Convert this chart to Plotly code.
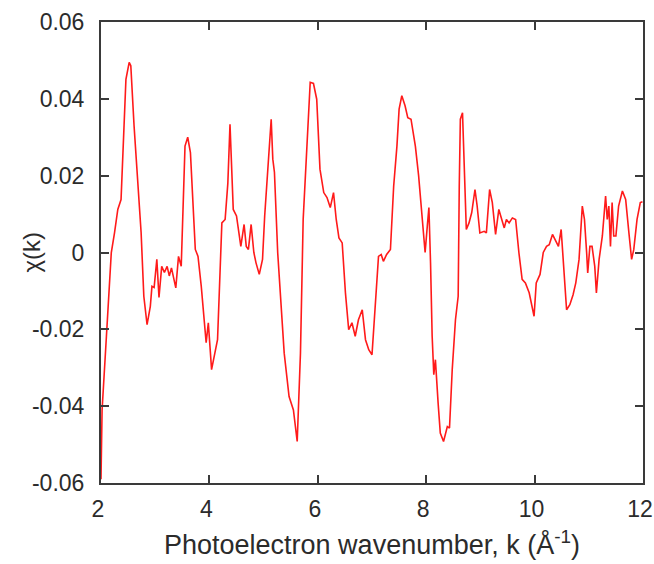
import plotly.graph_objects as go

k = [2.00, 2.02, 2.10, 2.19, 2.25, 2.31, 2.37, 2.40, 2.46, 2.52, 2.55, 2.61, 2.68, 2.74, 2.79,
     2.85, 2.91, 2.94, 2.98, 3.03, 3.07, 3.12, 3.17, 3.22, 3.26, 3.30, 3.38, 3.43, 3.48, 3.55,
     3.60, 3.65, 3.74, 3.79, 3.85, 3.94, 3.98, 4.04, 4.15, 4.19, 4.23, 4.29, 4.34, 4.38, 4.41,
     4.44, 4.50, 4.58, 4.64, 4.68, 4.72, 4.77, 4.82, 4.86, 4.92, 4.98, 5.02, 5.09, 5.14, 5.17,
     5.20, 5.26, 5.32, 5.38, 5.47, 5.55, 5.62, 5.68, 5.73, 5.80, 5.86, 5.92, 5.98, 6.04, 6.11,
     6.17, 6.23, 6.29, 6.34, 6.39, 6.45, 6.51, 6.57, 6.63, 6.69, 6.75, 6.82, 6.88, 6.94, 7.00,
     7.06, 7.12, 7.17, 7.21, 7.27, 7.34, 7.40, 7.46, 7.50, 7.55, 7.61, 7.66, 7.72, 7.80, 7.86,
     7.93, 7.98, 8.02, 8.05, 8.08, 8.11, 8.14, 8.17, 8.22, 8.26, 8.32, 8.39, 8.43, 8.48, 8.54,
     8.59, 8.61, 8.63, 8.67, 8.70, 8.74, 8.79, 8.84, 8.90, 8.94, 8.99, 9.07, 9.11, 9.17, 9.22,
     9.28, 9.34, 9.39, 9.44, 9.48, 9.53, 9.59, 9.65, 9.71, 9.77, 9.83, 9.90, 9.99, 10.03, 10.10,
     10.16, 10.22, 10.27, 10.33, 10.39, 10.44, 10.49, 10.53, 10.59, 10.65, 10.71, 10.76, 10.82,
     10.88, 10.92, 10.96, 10.98, 11.02, 11.06, 11.11, 11.14, 11.19, 11.25, 11.31, 11.34, 11.37,
     11.40, 11.43, 11.46, 11.50, 11.55, 11.62, 11.68, 11.74, 11.79, 11.83, 11.89, 11.95, 11.99]

chi = [-0.0590, -0.0410, -0.0218, 0.0000, 0.0052, 0.0112, 0.0138, 0.0260, 0.0451, 0.0495, 0.0486,
       0.0330, 0.0173, 0.0052, -0.0114, -0.0188, -0.0140, -0.0088, -0.0091, -0.0018, -0.0117,
       -0.0036, -0.0052, -0.0036, -0.0061, -0.0040, -0.0092, -0.0010, -0.0036, 0.0277, 0.0300,
       0.0260, 0.0008, -0.0010, -0.0088, -0.0235, -0.0183, -0.0305, -0.0227, -0.0088, 0.0077,
       0.0086, 0.0180, 0.0334, 0.0225, 0.0112, 0.0095, 0.0016, 0.0073, 0.0016, 0.0008, 0.0073,
       0.0000, -0.0027, -0.0057, -0.0018, 0.0095, 0.0234, 0.0347, 0.0243, 0.0209, 0.0000,
       -0.0140, -0.0262, -0.0375, -0.0410, -0.0492, -0.0262, 0.0086, 0.0286, 0.0443, 0.0440,
       0.0399, 0.0217, 0.0156, 0.0143, 0.0117, 0.0156, 0.0086, 0.0038, 0.0025, -0.0105, -0.0201,
       -0.0183, -0.0218, -0.0175, -0.0149, -0.0227, -0.0253, -0.0266, -0.0149, -0.0010, -0.0005,
       -0.0023, -0.0005, 0.0008, 0.0173, 0.0277, 0.0373, 0.0408, 0.0382, 0.0351, 0.0347, 0.0277,
       0.0200, 0.0086, 0.0000, 0.0068, 0.0117, -0.0027, -0.0218, -0.0318, -0.0279, -0.0392,
       -0.0470, -0.0492, -0.0453, -0.0457, -0.0305, -0.0175, -0.0114, 0.0173, 0.0347, 0.0364,
       0.0243, 0.0060, 0.0077, 0.0104, 0.0164, 0.0121, 0.0051, 0.0055, 0.0051, 0.0164, 0.0130,
       0.0047, 0.0112, 0.0090, 0.0064, 0.0086, 0.0077, 0.0090, 0.0086, 0.0000, -0.0070, -0.0079,
       -0.0105, -0.0166, -0.0079, -0.0057, 0.0000, 0.0016, 0.0020, 0.0047, 0.0030, 0.0016, 0.0060,
       -0.0036, -0.0149, -0.0136, -0.0110, -0.0079, -0.0018, 0.0121, 0.0086, 0.0000, -0.0053,
       0.0016, 0.0016, -0.0036, -0.0105, -0.0018, 0.0043, 0.0147, 0.0086, 0.0121, 0.0016, 0.0130,
       0.0043, 0.0043, 0.0121, 0.0160, 0.0138, 0.0051, -0.0018, 0.0008, 0.0086, 0.0130, 0.0132]

x_ticks = [2, 4, 6, 8, 10, 12]
x_tick_labels = ["2", "4", "6", "8", "10", "12"]
y_ticks = [-0.06, -0.04, -0.02, 0, 0.02, 0.04, 0.06]
y_tick_labels = ["-0.06", "-0.04", "-0.02", "0", "0.02", "0.04", "0.06"]

x_title = "Photoelectron wavenumber, k (Å<sup>-1</sup>)"
y_title = "χ(k)"

font_family = "Liberation Sans, Arial, sans-serif"
text_color = "#2b2b2b"
axis_color = "#3a3a3a"

fig = go.Figure()
fig.add_trace(go.Scatter(x=k, y=chi, mode="lines",
                         line=dict(color="#ff1a1a", width=1.6),
                         showlegend=False, hoverinfo="skip"))

axis_common = dict(showline=True, linecolor=axis_color, linewidth=2,
                   mirror="ticks", ticks="inside", ticklen=8, tickwidth=2,
                   tickcolor=axis_color, showgrid=False, zeroline=False,
                   automargin=False, ticklabeloverflow="allow",
                   tickfont=dict(family=font_family, size=23, color=text_color))

fig.update_layout(
    width=654, height=564,
    margin=dict(l=101, r=11, t=22, b=81),
    paper_bgcolor="white", plot_bgcolor="white",
    xaxis=dict(range=[2, 12], tickvals=x_ticks, ticktext=x_tick_labels,
               ticklabelstandoff=4, ticklabelshift=-3, **axis_common),
    yaxis=dict(range=[-0.06, 0.06], tickvals=y_ticks, ticktext=y_tick_labels,
               ticklabelstandoff=10, **axis_common),
    annotations=[
        dict(text=x_title, xref="paper", yref="paper", x=0.5, y=-0.13,
             xanchor="center", yanchor="middle", showarrow=False,
             font=dict(family=font_family, size=27, color=text_color)),
        dict(text=y_title, xref="paper", yref="paper", x=-0.129, y=0.5,
             xanchor="center", yanchor="middle", textangle=-90, showarrow=False,
             font=dict(family=font_family, size=24, color=text_color)),
    ],
)

fig.write_html("out.html")
